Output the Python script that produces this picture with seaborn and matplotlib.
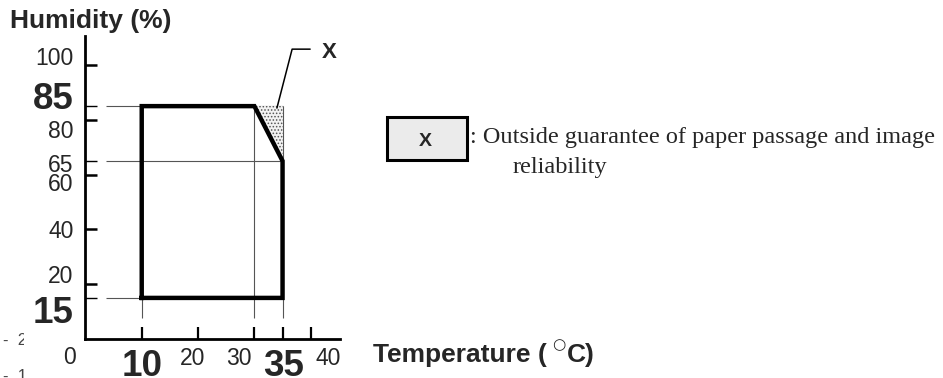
import matplotlib
matplotlib.use("Agg")
import matplotlib.pyplot as plt
import seaborn as sns
from matplotlib.patches import Rectangle
from matplotlib.ticker import NullLocator
from matplotlib.transforms import Bbox

# ---------------- data ----------------
boundary_temp = [10, 10, 30, 35, 35, 10]
boundary_hum = [15, 85, 85, 65, 15, 15]
zone_x_temp = [30, 35, 35]
zone_x_hum = [85, 85, 65]
ref_hum = [85, 65, 15]
ref_temp = [10, 30, 35]
x_ticks = [10, 20, 30, 35, 40]
x_big = [True, False, False, True, False]
y_ticks_major = [20, 40, 60, 80, 100]
y_ticks_minor = [15, 65, 85]
y_label_vals = [100, 85, 80, 65, 60, 40, 20, 15]
y_big = [False, True, False, False, False, False, False, True]
leader_temp = [39.9, 36.7, 34.0]
leader_hum = [105.8, 105.8, 84.3]

# ---------------- layout ----------------
W, H = 943, 378
sns.set_theme(style="ticks")
plt.rcParams["font.family"] = ["Liberation Sans", "DejaVu Sans"]
plt.rcParams["hatch.linewidth"] = 0.7

fig = plt.figure(figsize=(W / 100, H / 100), dpi=100)
ax = fig.add_axes([85.4 / W, 39 / H, 254.6 / W, 303 / H])
ax.set_xlim(0, 45.2)
ax.set_ylim(0, 110.6)
ax.patch.set_alpha(0)
sns.despine(ax=ax)
for s in ("left", "bottom"):
    ax.spines[s].set_linewidth(2.0)
    ax.spines[s].set_color("black")

ax.set_xticks(x_ticks)
ax.set_yticks(y_ticks_major)
ax.set_yticks(y_ticks_minor, minor=True)
ax.xaxis.set_minor_locator(NullLocator())
ax.tick_params(axis="both", which="both", direction="in", labelleft=False,
               labelbottom=False, left=True, bottom=True, color="black")
ax.tick_params(axis="x", length=8.6, width=1.6)
ax.tick_params(axis="y", which="major", length=8.6, width=1.8)
ax.tick_params(axis="y", which="minor", length=8.6, width=1.0)

# thin reference lines
ax.hlines(ref_hum, 3.6, 35, colors="#555555", lw=0.8, zorder=1)
ax.vlines(ref_temp, 7.55, 85, colors="#555555", lw=0.8, zorder=1)

# dotted region X
ax.fill(zone_x_temp, zone_x_hum, facecolor="#f2f2f2", edgecolor="#555555",
        hatch=".....", lw=0, zorder=1.5)

# thick boundary
sns.lineplot(x=boundary_temp, y=boundary_hum, sort=False, estimator=None,
             color="black", lw=3.2, ax=ax, zorder=3)
for ln in ax.lines:
    ln.set_solid_joinstyle("miter")
    ln.set_solid_capstyle("projecting")

# leader line
ax.plot(leader_temp, leader_hum, color="black", lw=1.1, zorder=3)

# ---------------- tick labels ----------------
small_fs, big_fs = 16.5, 26.5
def digit_h(fs):
    return 0.716 * fs / 0.72

y_center_dy = {100: 8, 85: 10, 80: -10, 65: -2.5, 60: -8.5, 40: 0, 20: 9, 15: -11.5}
for v, big in zip(y_label_vals, y_big):
    fs = big_fs if big else small_fs
    dy = y_center_dy[v] - digit_h(fs) / 2
    ax.annotate(str(v), xy=(0, v), xycoords="data", xytext=(-12, dy),
                textcoords="offset pixels", ha="right", va="baseline",
                fontsize=fs, fontweight="bold" if big else "normal",
                annotation_clip=False)

x_dx = {10: 0.3, 20: -5, 30: -16, 35: 1.4, 40: 17}
for v, big in zip(x_ticks, x_big):
    fs = big_fs if big else small_fs
    dy = -37.3 if big else -26
    ax.annotate(str(v), xy=(v, 0), xycoords="data", xytext=(x_dx[v], dy),
                textcoords="offset pixels", ha="center", va="baseline",
                fontsize=fs, fontweight="bold" if big else "normal",
                annotation_clip=False)
ax.annotate("0", xy=(0, 0), xycoords="data", xytext=(-16, -25.5),
            textcoords="offset pixels", ha="center", va="baseline",
            fontsize=small_fs, annotation_clip=False)

# ---------------- titles & labels ----------------
def fx(px):
    return px / W
def fy(py):
    return 1 - py / H

fig.text(fx(10), fy(28.3), "Humidity (%)", ha="left", va="baseline",
         fontsize=19, fontweight="bold")
fig.text(fx(373), fy(362), "Temperature (", ha="left", va="baseline",
         fontsize=19, fontweight="bold")
fig.text(fx(558.5), fy(345), "\u25CB", ha="center", va="center",
         fontsize=11, family=["DejaVu Sans"])
fig.text(fx(567), fy(362), "C)", ha="left", va="baseline",
         fontsize=19, fontweight="bold")
fig.text(fx(322), fy(58), "X", ha="left", va="baseline",
         fontsize=16, fontweight="bold")

# legend box
fig.add_artist(Rectangle((fx(386.7), fy(160)), 80.5 / W, 42.8 / H,
                         transform=fig.transFigure, facecolor="#ebebeb",
                         edgecolor="black", lw=2.2))
fig.text(fx(425.6), fy(146.5), "X", ha="center", va="baseline",
         fontsize=14, fontweight="bold")
fig.text(fx(470), fy(143), ": Outside guarantee of paper passage and image",
         ha="left", va="baseline", fontsize=17.5, family=["Liberation Serif"])
fig.text(fx(512.6), fy(173), "reliability", ha="left", va="baseline",
         fontsize=17.5, family=["Liberation Serif"])

# stray marks at the left edge
clip = Bbox([[0, 0], [24, H]])
for txt, py in (("-  2", 345), ("-  1", 381)):
    t = fig.text(fx(3), fy(py), txt, ha="left", va="baseline", fontsize=12,
                 color="#444444")
    t.set_clip_box(clip)
    t.set_clip_on(True)

fig.savefig("out.png", dpi=100)
